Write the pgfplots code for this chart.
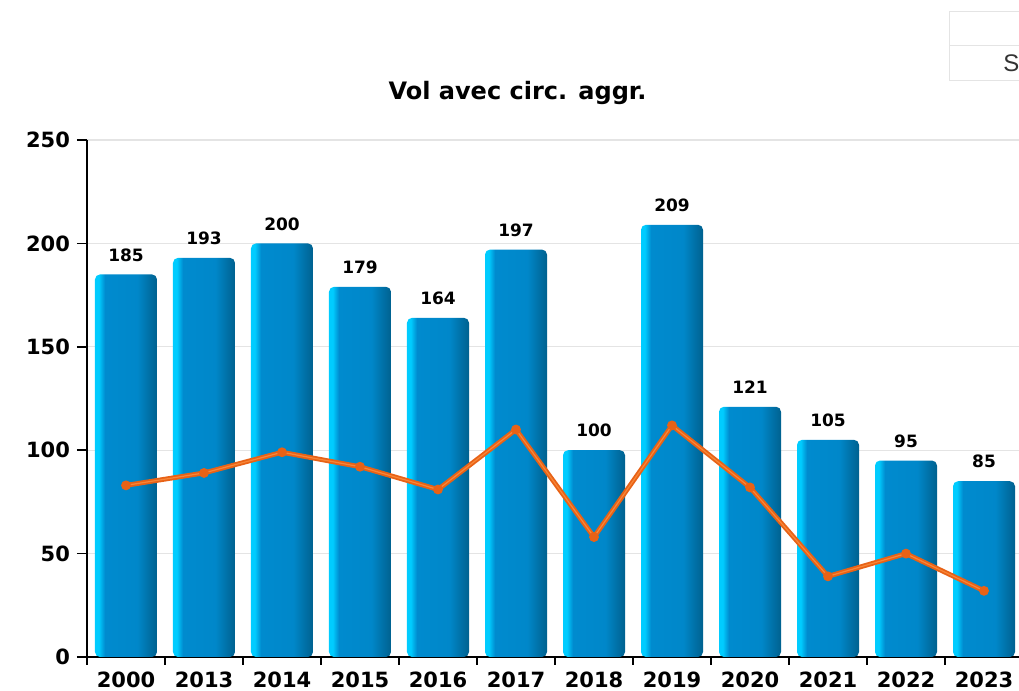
\documentclass[border=0pt]{standalone}
\usepackage{pgfplots}
\pgfplotsset{compat=1.18}
\usepackage{fontspec}
\setmainfont{DejaVu Sans}
\newfontfamily\arialf{Liberation Sans}
\definecolor{lineor}{RGB}{232,98,22}
\definecolor{lineorL}{RGB}{255,150,70}
\definecolor{gridc}{RGB}{228,228,228}
\pgfdeclarehorizontalshading{barshade}{100bp}{rgb(0bp)=(0,0.8,1); rgb(25bp)=(0,0.8,1); rgb(28bp)=(0,0.8,1); rgb(33bp)=(0,0.545,0.81); rgb(59bp)=(0,0.53,0.79); rgb(75bp)=(0,0.38,0.56); rgb(100bp)=(0,0.38,0.56)}
\pgfplotsset{mybar/.style={ybar, bar width=31pt, bar shift=0pt, draw=none, shading=barshade, rounded corners=2.5pt,
  nodes near coords, nodes near coords style={font=\fontsize{8.5}{10}\selectfont\bfseries, black, anchor=south, yshift=3pt}}}
\begin{document}
\begin{tikzpicture}[x=1pt,y=1pt]
\begin{axis}[
  at={(43.5pt,17pt)}, anchor=south west,
  scale only axis, width=468pt, height=258.5pt,
  xmin=-0.5, xmax=11.5, ymin=0, ymax=250,
  axis lines=left, axis line style={-, line width=0.8pt},
  ytick={0,50,...,250},
  ymajorgrids, grid style={gridc, line width=0.6pt},
  xtick={0,...,11},
  xticklabels={2000,2013,2014,2015,2016,2017,2018,2019,2020,2021,2022,2023},
  major x tick style={draw=none},
  minor xtick={-0.5,0.5,...,11.5},
  tick align=outside,
  major tick length=5pt, minor tick length=4pt,
  tick style={black, line width=0.8pt},
  ticklabel style={font=\fontsize{10.5}{12}\selectfont\bfseries},
  xticklabel style={yshift=1pt},
  /pgf/number format/assume math mode=true,
  clip=false,
]
\addplot[mybar] coordinates {(0,185)};
\addplot[mybar] coordinates {(1,193)};
\addplot[mybar] coordinates {(2,200)};
\addplot[mybar] coordinates {(3,179)};
\addplot[mybar] coordinates {(4,164)};
\addplot[mybar] coordinates {(5,197)};
\addplot[mybar] coordinates {(6,100)};
\addplot[mybar] coordinates {(7,209)};
\addplot[mybar] coordinates {(8,121)};
\addplot[mybar] coordinates {(9,105)};
\addplot[mybar] coordinates {(10,95)};
\addplot[mybar] coordinates {(11,85)};
\addplot[sharp plot, lineor, line width=2.4pt, mark=*, mark size=2.2pt, mark options={fill=lineor, draw=lineor, line width=0.5pt}]
  coordinates {(0,83) (1,89) (2,99) (3,92) (4,81) (5,110) (6,58) (7,112) (8,82) (9,39) (10,50) (11,32)};
\addplot[sharp plot, lineorL, line width=0.6pt, opacity=0.7]
  coordinates {(0,83) (1,89) (2,99) (3,92) (4,81) (5,110) (6,58) (7,112) (8,82) (9,39) (10,50) (11,32)};
\end{axis}
\node[font=\fontsize{12}{14}\selectfont\bfseries, anchor=base] at (258.75,295.5) {Vol avec circ. aggr.};
\draw[gridc, line width=0.5pt] (515,339.5) -- (474.5,339.5) -- (474.5,305) -- (515,305);
\draw[gridc, line width=0.5pt] (474.5,322.5) -- (515,322.5);
\node[font=\arialf\fontsize{12}{14}\selectfont, text=black!80, anchor=base west, inner sep=0pt] at (501.5,309.5) {S};
\pgfresetboundingbox
\path[use as bounding box] (0,0) rectangle (509.5,345.5);
\end{tikzpicture}
\end{document}
